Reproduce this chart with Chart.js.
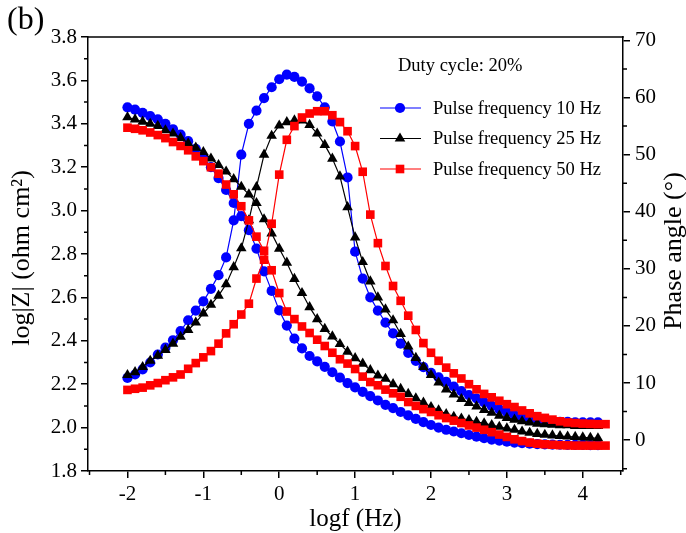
<!DOCTYPE html>
<html>
<head>
<meta charset="utf-8">
<script src="https://cdn.jsdelivr.net/npm/chart.js@4.4.1/dist/chart.umd.min.js"></script>
<style>
  html, body { margin: 0; padding: 0; background: #fff; }
  #wrap { width: 686px; height: 533px; }
</style>
</head>
<body>
<div id="wrap"><canvas id="bode" width="686" height="533"></canvas></div>
<script>
// Bode plot: log|Z| (left axis) and phase angle (right axis) vs logf

const logf = [
  -2.0, -1.9, -1.8, -1.7, -1.6, -1.5, -1.4, -1.3, -1.2, -1.1,
  -1.0, -0.9, -0.8, -0.7, -0.6, -0.5, -0.4, -0.3, -0.2, -0.1,
  0.0, 0.1, 0.2, 0.3, 0.4, 0.5, 0.6, 0.7, 0.8, 0.9,
  1.0, 1.1, 1.2, 1.3, 1.4, 1.5, 1.6, 1.7, 1.8, 1.9,
  2.0, 2.1, 2.2, 2.3, 2.4, 2.5, 2.6, 2.7, 2.8, 2.9,
  3.0, 3.1, 3.2, 3.3, 3.4, 3.5, 3.6, 3.7, 3.8, 3.9,
  4.0, 4.1, 4.2, 4.3
];

// 10 Hz
const z10 = [
  3.476, 3.465, 3.45, 3.435, 3.42, 3.40, 3.375, 3.35, 3.32, 3.285,
  3.245, 3.20, 3.15, 3.095, 3.035, 2.975, 2.91, 2.825, 2.72, 2.63,
  2.54, 2.47, 2.41, 2.365, 2.33, 2.305, 2.28, 2.255, 2.23, 2.205,
  2.185, 2.165, 2.145, 2.125, 2.105, 2.09, 2.072, 2.056, 2.04, 2.025,
  2.012, 2.0, 1.99, 1.982, 1.974, 1.966, 1.958, 1.951, 1.945, 1.94,
  1.935, 1.931, 1.928, 1.926, 1.924, 1.923, 1.922, 1.921, 1.92, 1.92,
  1.92, 1.919, 1.919, null
];
const phase10 = [
  10.9, 11.5, 12.4, 13.6, 15.0, 16.2, 17.5, 19.1, 21.0, 22.7,
  24.3, 26.5, 28.9, 32.0, 38.5, 50.0, 55.4, 57.7, 59.9, 61.8,
  63.2, 64.0, 63.6, 62.8, 61.6, 60.2, 58.3, 55.8, 52.3, 46.0,
  33.0, 28.3, 25.0, 22.7, 20.6, 18.7, 16.9, 15.3, 13.9, 12.8,
  11.8, 11.0, 10.2, 9.4, 8.6, 7.9, 7.3, 6.6, 6.0, 5.4,
  4.9, 4.4, 4.0, 3.8, 3.6, 3.4, 3.3, 3.2, 3.2, 3.1,
  3.1, 3.1, 3.1, null
];

// 25 Hz
const z25 = [
  3.43, 3.42, 3.41, 3.40, 3.39, 3.37, 3.355, 3.335, 3.31, 3.29,
  3.27, 3.24, 3.21, 3.18, 3.145, 3.11, 3.075, 3.035, 2.96, 2.895,
  2.825, 2.76, 2.685, 2.62, 2.555, 2.50, 2.455, 2.42, 2.385, 2.35,
  2.32, 2.295, 2.265, 2.24, 2.225, 2.20, 2.178, 2.155, 2.135, 2.115,
  2.095, 2.08, 2.062, 2.05, 2.042, 2.035, 2.027, 2.02, 2.012, 2.004,
  1.996, 1.99, 1.982, 1.976, 1.971, 1.967, 1.964, 1.961, 1.959, 1.957,
  1.955, 1.953, 1.951, null
];
const phase25 = [
  11.4, 11.9, 12.8, 13.9, 14.8, 15.8, 16.9, 18.1, 19.3, 20.6,
  22.2, 23.7, 25.3, 27.3, 30.3, 33.6, 38.5, 44.3, 50.0, 53.3,
  55.1, 55.7, 56.0, 56.0, 55.2, 53.7, 51.7, 49.3, 46.2, 40.8,
  35.5, 31.2, 27.8, 25.0, 22.9, 21.0, 18.6, 16.4, 14.4, 12.8,
  11.4, 10.1, 8.9, 8.0, 7.2, 6.5, 5.9, 5.3, 4.8, 4.3,
  3.9, 3.6, 3.3, 3.1, 2.9, 2.8, 2.7, 2.6, 2.6, 2.5,
  2.5, 2.5, 2.5, null
];

// 50 Hz
const z50 = [
  3.382, 3.377, 3.37, 3.36, 3.348, 3.334, 3.316, 3.298, 3.278, 3.25,
  3.228, 3.20, 3.17, 3.12, 3.075, 3.02, 2.955, 2.88, 2.815, 2.725,
  2.62, 2.535, 2.50, 2.466, 2.436, 2.405, 2.376, 2.345, 2.315, 2.295,
  2.27, 2.235, 2.21, 2.195, 2.175, 2.158, 2.142, 2.118, 2.10, 2.085,
  2.072, 2.057, 2.044, 2.032, 2.021, 2.01, 2.0, 1.99, 1.979, 1.968,
  1.957, 1.946, 1.938, 1.931, 1.926, 1.923, 1.921, 1.919, 1.918, 1.917,
  1.917, 1.917, 1.917, 1.917
];
const phase50 = [
  8.8, 9.0, 9.2, 9.6, 10.0, 10.5, 11.0, 11.5, 12.5, 13.5,
  14.5, 15.6, 16.9, 18.7, 20.3, 22.0, 23.9, 28.3, 31.6, 37.9,
  46.5, 52.6, 55.0, 56.5, 57.2, 57.6, 57.6, 56.9, 55.7, 54.1,
  51.5, 47.0, 39.5, 34.5, 30.5, 27.0, 24.4, 21.8, 19.3, 17.0,
  15.3, 13.9, 12.7, 11.7, 10.8, 9.8, 8.9, 8.1, 7.5, 6.9,
  6.3, 5.8, 5.2, 4.7, 4.2, 3.9, 3.6, 3.3, 3.1, 3.0,
  2.9, 2.85, 2.8, 2.8
];

const yTicksZ = [1.8, 2.0, 2.2, 2.4, 2.6, 2.8, 3.0, 3.2, 3.4, 3.6, 3.8];
const yTicksPhase = [0, 10, 20, 30, 40, 50, 60, 70];
const xTicks = [-2, -1, 0, 1, 2, 3, 4];

const SERIF = "'Liberation Serif', 'Times New Roman', serif";
Chart.defaults.font.family = SERIF;
Chart.defaults.color = '#000';

const series = [
  { label: 'Pulse frequency 10 Hz', z: z10, phase: phase10, color: '#0000ff', style: 'circle', r: 5.1 },
  { label: 'Pulse frequency 25 Hz', z: z25, phase: phase25, color: '#000000', style: 'triangle', r: 6.1 },
  { label: 'Pulse frequency 50 Hz', z: z50, phase: phase50, color: '#ff0000', style: 'rect', r: 6.1 },
];

function toPoints(ys) {
  const pts = [];
  ys.forEach((y, i) => { if (y !== null) pts.push({ x: logf[i], y: y }); });
  return pts;
}

function makeSet(s, ys, axis) {
  return {
    label: s.label,
    data: toPoints(ys),
    yAxisID: axis,
    showLine: true,
    borderColor: s.color,
    backgroundColor: s.color,
    borderWidth: 1.2,
    pointStyle: s.style,
    pointRadius: s.r,
    pointBorderWidth: 0,
    pointBackgroundColor: s.color,
    tension: 0,
  };
}

// red first so it sits on top, blue underneath
const datasets = [];
[series[2], series[1], series[0]].forEach(s => {
  datasets.push(makeSet(s, s.z, 'yZ'));
  datasets.push(makeSet(s, s.phase, 'yP'));
});

function drawMarker(ctx, style, x, y, r, color) {
  ctx.fillStyle = color;
  ctx.beginPath();
  if (style === 'circle') {
    ctx.arc(x, y, r, 0, Math.PI * 2);
  } else if (style === 'triangle') {
    const h = r * 1.5;
    const half = r * Math.sin(Math.PI / 3);
    ctx.moveTo(x, y - r);
    ctx.lineTo(x + half, y - r + h);
    ctx.lineTo(x - half, y - r + h);
    ctx.closePath();
  } else {
    const s = r * Math.SQRT1_2;
    ctx.rect(x - s, y - s, s * 2, s * 2);
  }
  ctx.fill();
}

const frameAndNotes = {
  id: 'frameAndNotes',
  afterDraw(chart) {
    const { ctx, chartArea: area, scales } = chart;
    ctx.save();

    // top edge of the box
    ctx.strokeStyle = '#000';
    ctx.lineWidth = 1.5;
    ctx.beginPath();
    ctx.moveTo(area.left - 0.75, area.top);
    ctx.lineTo(area.right + 0.75, area.top);
    ctx.stroke();

    // minor ticks halfway between labelled ones
    const minor = scale => {
      const vals = scale.ticks.map(t => t.value);
      const step = vals[1] - vals[0];
      const out = [vals[0] - step / 2, vals[vals.length - 1] + step / 2];
      for (let i = 0; i < vals.length - 1; i++) out.push((vals[i] + vals[i + 1]) / 2);
      return out.filter(v => v >= scale.min && v <= scale.max);
    };
    ctx.beginPath();
    minor(scales.x).forEach(v => {
      const px = scales.x.getPixelForValue(v);
      ctx.moveTo(px, area.bottom);
      ctx.lineTo(px, area.bottom + 4);
    });
    minor(scales.yZ).forEach(v => {
      const py = scales.yZ.getPixelForValue(v);
      ctx.moveTo(area.left, py);
      ctx.lineTo(area.left - 4, py);
    });
    minor(scales.yP).forEach(v => {
      const py = scales.yP.getPixelForValue(v);
      ctx.moveTo(area.right, py);
      ctx.lineTo(area.right + 4, py);
    });
    ctx.stroke();

    // axis titles
    const midY = (area.top + area.bottom) / 2;
    ctx.fillStyle = '#000';
    ctx.textAlign = 'center';
    ctx.textBaseline = 'middle';
    ctx.font = '25px ' + SERIF;
    ctx.fillText('logf (Hz)', (area.left + area.right) / 2, 519);

    ctx.save();
    ctx.translate(22, midY + 4);
    ctx.rotate(-Math.PI / 2);
    ctx.font = '26px ' + SERIF;
    ctx.fillText('log|Z| (ohm cm\u00B2)', 0, 0);
    ctx.restore();

    ctx.save();
    ctx.translate(674, midY - 3);
    ctx.rotate(-Math.PI / 2);
    ctx.font = '26px ' + SERIF;
    ctx.fillText('Phase angle (\u00B0)', 0, 0);
    ctx.restore();

    // panel letter
    ctx.textAlign = 'left';
    ctx.font = '32px ' + SERIF;
    ctx.fillText('(b)', 7, 21);

    // legend
    ctx.font = '18.5px ' + SERIF;
    ctx.fillText('Duty cycle: 20%', 398, 66);
    series.forEach((s, i) => {
      const y = 108 + i * 30.5;
      ctx.strokeStyle = s.color;
      ctx.lineWidth = 1.2;
      ctx.beginPath();
      ctx.moveTo(380, y);
      ctx.lineTo(421, y);
      ctx.stroke();
      drawMarker(ctx, s.style, 400, y, s.r, s.color);
      ctx.fillStyle = '#000';
      ctx.fillText(s.label, 433, y + 1);
    });

    ctx.restore();
  }
};

const axisLine = { color: '#000', width: 1.5 };
const tickGrid = { drawOnChartArea: false, tickLength: 7, color: '#000', lineWidth: 1.5 };

new Chart(document.getElementById('bode'), {
  type: 'scatter',
  data: { datasets },
  options: {
    responsive: false,
    animation: false,
    layout: { padding: { top: 37, left: 0, right: 0, bottom: 0 } },
    plugins: { legend: { display: false }, tooltip: { enabled: false } },
    scales: {
      x: {
        type: 'linear',
        position: 'bottom',
        min: -2.52,
        max: 4.53,
        afterFit: s => { s.height = 62; },
        afterBuildTicks: s => { s.ticks = xTicks.map(v => ({ value: v })); },
        ticks: { font: { size: 21 }, padding: 4, callback: v => String(v) },
        grid: tickGrid,
        border: axisLine,
      },
      yZ: {
        type: 'linear',
        position: 'left',
        min: 1.8,
        max: 3.8,
        afterFit: s => { s.width = 88; },
        afterBuildTicks: s => { s.ticks = yTicksZ.map(v => ({ value: v })); },
        ticks: { font: { size: 21 }, padding: 4, callback: v => v.toFixed(1) },
        grid: tickGrid,
        border: axisLine,
      },
      yP: {
        type: 'linear',
        position: 'right',
        min: -5.4,
        max: 70.6,
        afterFit: s => { s.width = 63; },
        afterBuildTicks: s => { s.ticks = yTicksPhase.map(v => ({ value: v })); },
        ticks: { font: { size: 21 }, padding: 5, callback: v => String(v) },
        grid: tickGrid,
        border: axisLine,
      },
    },
  },
  plugins: [frameAndNotes],
});
</script>
</body>
</html>
